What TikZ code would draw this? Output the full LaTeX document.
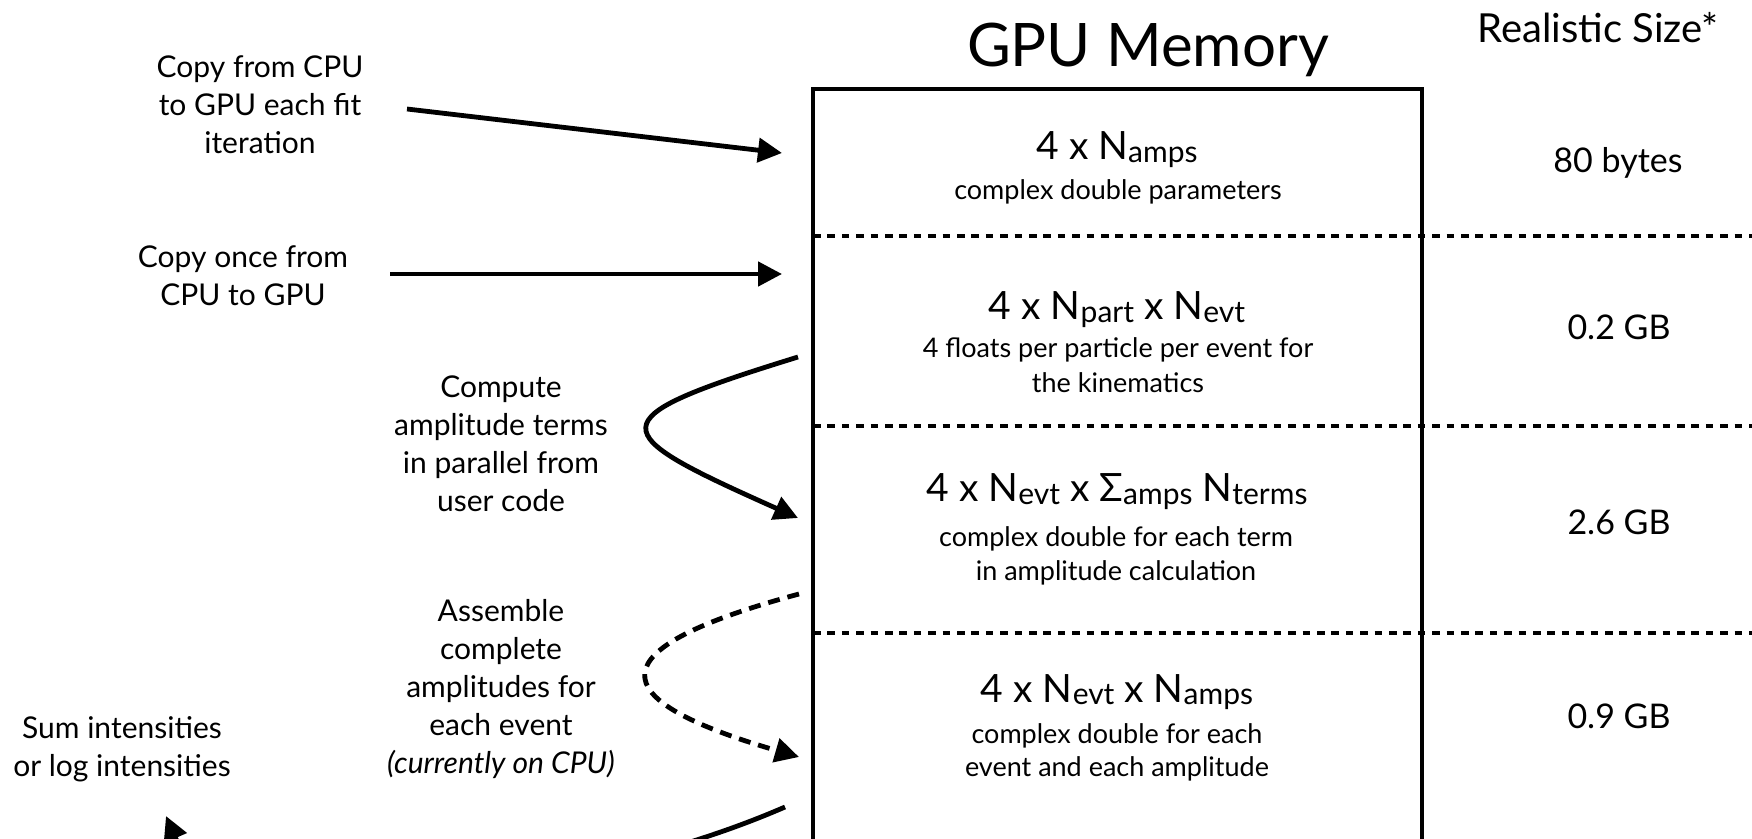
\documentclass[tikz,border=0pt]{standalone}
\usepackage{fontspec}
\setmainfont{Lato}
\usetikzlibrary{arrows.meta}
\newcommand\mysub[1]{\raisebox{-1.2pt}{\fontsize{15}{15}\selectfont #1}}
\begin{document}
\begin{tikzpicture}[x=0.5pt,y=-0.5pt,
  lbl/.style={align=center, font=\fontsize{15}{19}\selectfont, inner sep=0pt},
  title/.style={font=\fontsize{30}{30}\selectfont, inner sep=0pt, anchor=base},
  hdr/.style={font=\fontsize{20}{20}\selectfont, inner sep=0pt, anchor=base},
  sizetxt/.style={font=\fontsize{17}{17}\selectfont, inner sep=0pt, anchor=base},
  formula/.style={font=\fontsize{19.5}{19.5}\selectfont, inner sep=0pt, anchor=base},
  desc/.style={font=\fontsize{13.5}{13.5}\selectfont, inner sep=0pt, anchor=base},
  boxline/.style={line width=1.6pt},
  sepline/.style={line width=1.6pt, dash pattern=on 3.8pt off 3.4pt},
  arr/.style={line width=2.4pt, -{Triangle[length=12pt,width=12pt]}},
  darr/.style={arr, dash pattern=on 6pt off 4pt}
]
\useasboundingbox (0,0) rectangle (1752,839);
\clip (0,0) rectangle (1752,839);

% memory box and separators
\draw[boxline] (813,89) rectangle (1422,841);
\draw[sepline] (813,236) -- (1752,236);
\draw[sepline] (813,426) -- (1752,426);
\draw[sepline] (813,633) -- (1752,633);

% headers
\node[title] (title) at (1148,67) {GPU Memory};
\node[hdr] (sizehdr) at (1598,43) {Realistic Size*};

% contents
\node[formula] (f1) at (1117,160) {4 x N\mysub{amps}};
\node[desc] (d1) at (1118,200) {complex double parameters};

\node[formula] (f2) at (1117,320) {4 x N\mysub{part} x N\mysub{evt}};
\node[desc] (d2a) at (1118,358) {4 floats per particle per event for};
\node[desc] (d2b) at (1118,393) {the kinematics};

\node[formula] (f3) at (1117,502) {4 x N\mysub{evt} x Σ\mysub{amps} N\mysub{terms}};
\node[desc] (d3a) at (1116,547) {complex double for each term};
\node[desc] (d3b) at (1116,581) {in amplitude calculation};

\node[formula] (f4) at (1117,702) {4 x N\mysub{evt} x N\mysub{amps}};
\node[desc] (d4a) at (1117,743) {complex double for each};
\node[desc] (d4b) at (1117,776) {event and each amplitude};

% sizes
\node[sizetxt] (s1) at (1618,173) {80 bytes};
\node[sizetxt] (s2) at (1619,340) {0.2 GB};
\node[sizetxt] (s3) at (1619,535) {2.6 GB};
\node[sizetxt] (s4) at (1619,728) {0.9 GB};

% left labels
\node[lbl] (lab1) at (260,105) {Copy from CPU\\to GPU each fit\\iteration};
\node[lbl] (lab2) at (243,276) {Copy once from\\CPU to GPU};
\node[lbl] (lab3) at (501,444) {Compute\\amplitude terms\\in parallel from\\user code};
\node[lbl] (lab4) at (501,689) {Assemble\\complete\\amplitudes for\\each event\\\textit{(currently on CPU)}};
\node[lbl] (lab5) at (122,749) {Sum intensities\\or log intensities};

% connector end points
\coordinate (a1s) at (407,109);
\coordinate (a1e) at (782,153);
\coordinate (a2s) at (390,274);
\coordinate (a2e) at (782,274);
\coordinate (c1s) at (798,357);
\coordinate (c1e) at (798,518);
\coordinate (c2s) at (799,594);
\coordinate (c2e) at (799,757);
\coordinate (c3s) at (785,807);
\coordinate (c3e) at (166,816);

\draw[arr] (a1s) -- (a1e);
\draw[arr] (a2s) -- (a2e);
\draw[arr] (c1s) .. controls (594,420) and (603,431) .. (c1e);
\draw[darr] (c2s) .. controls (595,649) and (599,699) .. (c2e);
\draw[arr] (c3s) .. controls (560,905) and (215,930) .. (c3e);
\end{tikzpicture}
\end{document}
